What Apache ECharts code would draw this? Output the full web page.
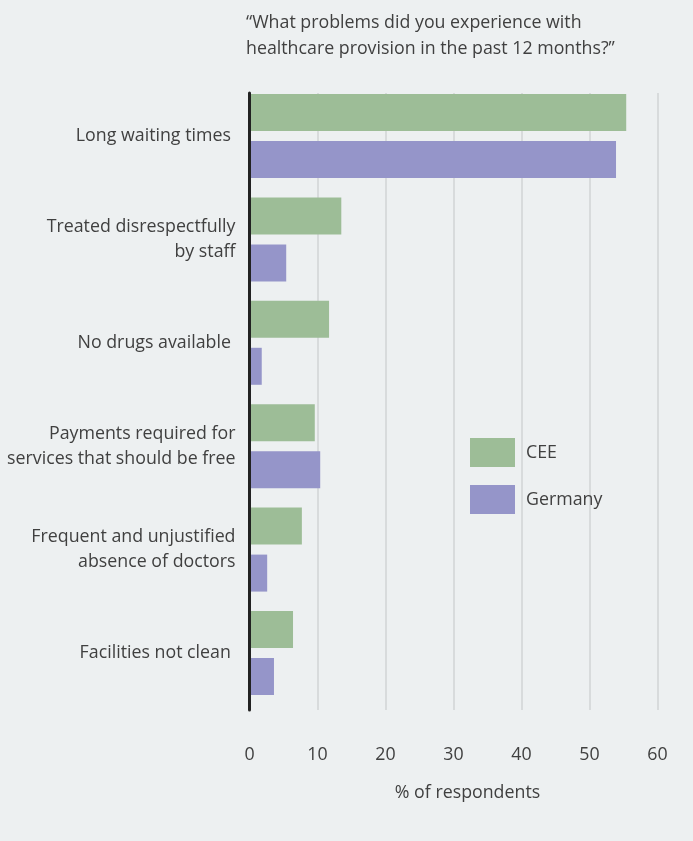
<!DOCTYPE html>
<html><head><meta charset="utf-8">
<script src="https://cdn.jsdelivr.net/npm/echarts@6/dist/echarts.min.js"></script>
<style>html,body{margin:0;padding:0;background:#edf0f1;}#c{width:693px;height:841px;}</style>
</head><body><div id="c"></div>
<script>
var categories = ["Long waiting times ", "Treated disrespectfully\nby staff", "No drugs available ", "Payments required for\nservices that should be free", "Frequent and unjustified\nabsence of doctors", "Facilities not clean "];
var ceeValues = [55.4, 13.5, 11.7, 9.6, 7.7, 6.4];
var germanyValues = [53.9, 5.4, 1.8, 10.4, 2.6, 3.6];
var xTicks = [0, 10, 20, 30, 40, 50, 60];

var FONT = '"Open Sans", "Noto Sans", sans-serif';
var TXT = '#404040';
var FS = 17.8;
var chart = echarts.init(document.getElementById('c'));
chart.setOption({
  backgroundColor: '#edf0f1',
  animation: false,
  textStyle: { fontFamily: FONT },
  title: {
    text: '\u201cWhat problems did you experience with\nhealthcare provision in the past 12 months?\u201d',
    left: 246, top: 10, padding: 0,
    textStyle: { fontFamily: FONT, fontSize: FS, fontWeight: 'normal', color: TXT, lineHeight: 26 }
  },
  legend: {
    orient: 'vertical', left: 470, top: 438, padding: 0,
    itemWidth: 45, itemHeight: 29, itemGap: 18,
    icon: 'rect',
    textStyle: { fontFamily: FONT, fontSize: FS, color: TXT, padding: [0, 0, 0, 6] },
    data: ['CEE', 'Germany']
  },
  grid: [
    { left: 249.5, width: 408, top: 84.3, height: 620.4 },
    { left: 249.5, width: 408, top: 93, height: 617 }
  ],
  xAxis: [
    { type: 'value', gridIndex: 0, min: xTicks[0], max: xTicks[xTicks.length - 1], interval: 10,
      axisLine: { show: false }, axisTick: { show: false }, axisLabel: { show: false }, splitLine: { show: false } },
    { type: 'value', gridIndex: 1, min: xTicks[0], max: xTicks[xTicks.length - 1], interval: 10,
      axisLine: { show: false }, axisTick: { show: false },
      axisLabel: { show: true, margin: 36, fontFamily: FONT, fontSize: FS, color: TXT },
      splitLine: { show: true, lineStyle: { color: '#d8dbdc', width: 2 } },
      name: '% of respondents', nameLocation: 'middle', nameGap: 74,
      nameTextStyle: { fontFamily: FONT, fontSize: FS, color: TXT, padding: [0, 0, 0, 28] } }
  ],
  yAxis: [
    { type: 'category', gridIndex: 0, data: categories, inverse: true,
      axisLine: { show: false }, axisTick: { show: false }, splitLine: { show: false },
      axisLabel: { margin: 14, fontFamily: FONT, fontSize: FS, color: TXT, lineHeight: 25, align: 'right' } },
    { type: 'category', gridIndex: 1, data: categories, inverse: true, z: 10,
      axisLine: { show: true, lineStyle: { color: '#222222', width: 3 } },
      axisTick: { show: false }, axisLabel: { show: false }, splitLine: { show: false } }
  ],
  series: [
    { name: 'CEE', type: 'bar', xAxisIndex: 0, yAxisIndex: 0, data: ceeValues,
      barWidth: 37, barGap: '27%', itemStyle: { color: '#9dbd97' }, z: 1 },
    { name: 'Germany', type: 'bar', xAxisIndex: 0, yAxisIndex: 0, data: germanyValues,
      barWidth: 37, barGap: '27%', itemStyle: { color: '#9595c9' }, z: 1 }
  ]
});
</script></body></html>
